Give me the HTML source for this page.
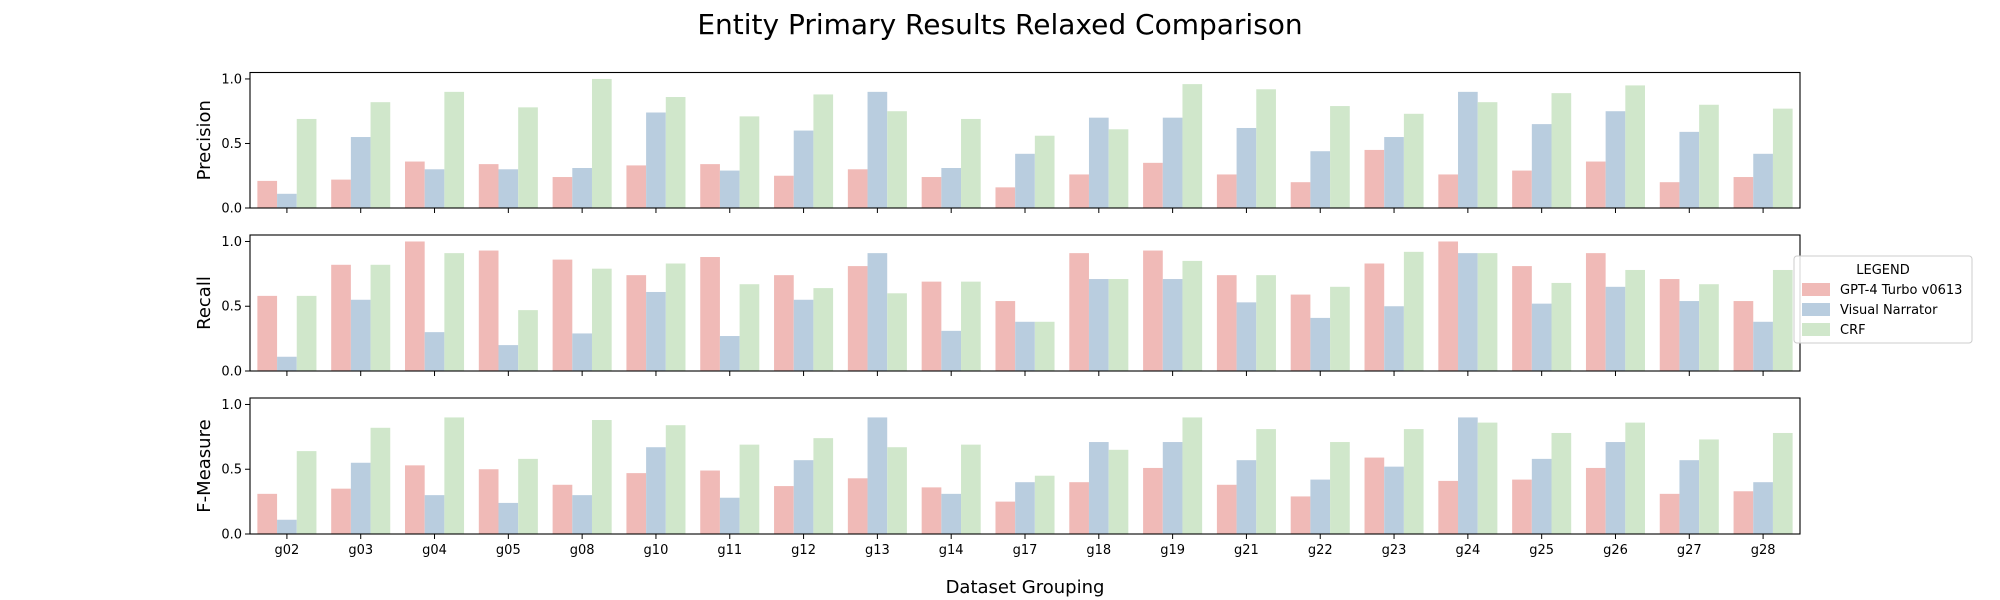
<!DOCTYPE html>
<html><head><meta charset="utf-8"><style>
html,body{margin:0;padding:0;background:#fff;}
svg{display:block;font-family:"DejaVu Sans","Liberation Sans",sans-serif;}
</style></head><body>
<svg id="chart" width="2000" height="600" viewBox="0 0 2000 600">
<text x="1000" y="34" text-anchor="middle" font-size="28" fill="#000">Entity Primary Results Relaxed Comparison</text>
<text x="1025" y="593" text-anchor="middle" font-size="18" fill="#000">Dataset Grouping</text>
<g id="panels"></g>
<g id="legend">
<rect x="1794" y="256" width="178" height="87" rx="3" fill="#fff" fill-opacity="0.85" stroke="#ccc"/>
<text x="1883" y="274" text-anchor="middle" font-size="13">LEGEND</text>
<g><rect x="1802" y="283" width="28" height="13" fill="#f0bab7"/><text x="1840" y="294" font-size="13">GPT-4 Turbo v0613</text></g>
<g><rect x="1802" y="303" width="28" height="13" fill="#b9cddf"/><text x="1840" y="314" font-size="13">Visual Narrator</text></g>
<g><rect x="1802" y="323" width="28" height="13" fill="#d0e7cb"/><text x="1840" y="334" font-size="13">CRF</text></g>
</g>
</svg>
<script>
const categories = ["g02","g03","g04","g05","g08","g10","g11","g12","g13","g14","g17","g18","g19","g21","g22","g23","g24","g25","g26","g27","g28"];
const seriesNames = ["GPT-4 Turbo v0613","Visual Narrator","CRF"];
const precisionGpt = [.21,.22,.36,.34,.24,.33,.34,.25,.30,.24,.16,.26,.35,.26,.20,.45,.26,.29,.36,.20,.24];
const precisionVn  = [.11,.55,.30,.30,.31,.74,.29,.60,.90,.31,.42,.70,.70,.62,.44,.55,.90,.65,.75,.59,.42];
const precisionCrf = [.69,.82,.90,.78,1.0,.86,.71,.88,.75,.69,.56,.61,.96,.92,.79,.73,.82,.89,.95,.80,.77];
const recallGpt = [.58,.82,1.0,.93,.86,.74,.88,.74,.81,.69,.54,.91,.93,.74,.59,.83,1.0,.81,.91,.71,.54];
const recallVn  = [.11,.55,.30,.20,.29,.61,.27,.55,.91,.31,.38,.71,.71,.53,.41,.50,.91,.52,.65,.54,.38];
const recallCrf = [.58,.82,.91,.47,.79,.83,.67,.64,.60,.69,.38,.71,.85,.74,.65,.92,.91,.68,.78,.67,.78];
const fGpt = [.31,.35,.53,.50,.38,.47,.49,.37,.43,.36,.25,.40,.51,.38,.29,.59,.41,.42,.51,.31,.33];
const fVn  = [.11,.55,.30,.24,.30,.67,.28,.57,.90,.31,.40,.71,.71,.57,.42,.52,.90,.58,.71,.57,.40];
const fCrf = [.64,.82,.90,.58,.88,.84,.69,.74,.67,.69,.45,.65,.90,.81,.71,.81,.86,.78,.86,.73,.78];
const yTicks = [0.0,0.5,1.0];
const yTickLabels = ["0.0","0.5","1.0"];
const panelTitles = ["Precision","Recall","F-Measure"];

const panels = [
  {name:"precision", label:panelTitles[0], top:72.5, bottom:208, data:[precisionGpt,precisionVn,precisionCrf]},
  {name:"recall", label:panelTitles[1], top:235, bottom:371, data:[recallGpt,recallVn,recallCrf]},
  {name:"f-measure", label:panelTitles[2], top:398, bottom:534, data:[fGpt,fVn,fCrf]}
];
const colors = ["#f0bab7","#b9cddf","#d0e7cb"];
const slug = ["gpt4","visual-narrator","crf"];
const L = 250, R = 1800, YMAX = 1.05;
const NS = "http://www.w3.org/2000/svg";
const root = document.getElementById("panels");
function mk(tag, attrs, parent){const e=document.createElementNS(NS,tag);for(const k in attrs)e.setAttribute(k,attrs[k]);parent.appendChild(e);return e;}
const n = categories.length;
const xScale = i => L + (i + 0.5) * (R - L) / n;
const step = (R - L) / n;
const bw = step * 0.8 / 3;

panels.forEach((p, pi) => {
  const g = mk("g", {}, root);
  
  
  const yScale = v => p.bottom - v / YMAX * (p.bottom - p.top);
  p.data.forEach((arr, si) => {
    arr.forEach((v, i) => {
      const x = xScale(i) - step * 0.4 + si * bw;
      const r = mk("rect", {x: x, y: yScale(v), width: bw, height: p.bottom - yScale(v), fill: colors[si]}, g);
      
      
    });
  });
  const frame = mk("rect", {x: L, y: p.top, width: R - L, height: p.bottom - p.top, fill: "none", stroke: "#000", "stroke-width": 1.1}, g);
  
  
  yTicks.forEach((t, ti) => {
    const y = yScale(t);
    mk("line", {x1: L - 5, x2: L, y1: y, y2: y, stroke: "#000"}, g);
    const tl = mk("text", {x: L - 8, y: y + 4.5, "text-anchor": "end", "font-size": 13}, g);
    tl.textContent = yTickLabels[ti];
    
    
  });
  categories.forEach((c, i) => {
    const x = xScale(i);
    mk("line", {x1: x, x2: x, y1: p.bottom, y2: p.bottom + 5, stroke: "#000"}, g);
    if (pi === 2) {
      const xl = mk("text", {x: x, y: p.bottom + 20, "text-anchor": "middle", "font-size": 13}, g);
      xl.textContent = c;
      
      
    }
  });
  const cy = (p.top + p.bottom) / 2;
  const yl = mk("text", {x: 210, y: cy, "text-anchor": "middle", "font-size": 18, transform: "rotate(-90 210 " + cy + ")"}, g);
  yl.textContent = p.label;
  
  
});
root.parentNode.appendChild(document.getElementById("legend"));
</script>
</body></html>
